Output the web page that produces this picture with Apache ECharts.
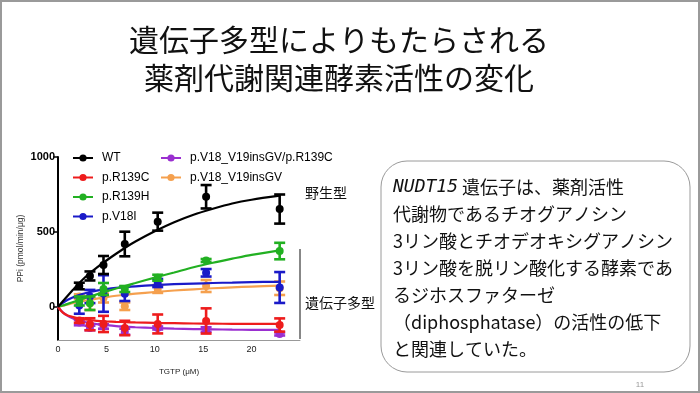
<!DOCTYPE html>
<html>
<head>
<meta charset="utf-8">
<script src="https://cdn.jsdelivr.net/npm/echarts@6/dist/echarts.min.js"></script>
<style>
html,body{margin:0;padding:0;background:#fff;}
#c{width:700px;height:393px;}
</style>
</head>
<body>
<div id="c"></div>
<script>
// ---- data ----
const seriesNames = ['WT', 'p.R139C', 'p.R139H', 'p.V18I', 'p.V18_V19insGV/p.R139C', 'p.V18_V19insGV'];
const xConc = [2.2, 3.3, 4.7, 6.9, 10.3, 15.3, 22.9];

const wtMean = [140, 207, 280, 420, 569, 735, 653];
const wtErr = [22, 30, 60, 82, 60, 78, 97];
const r139cMean = [-90, -115, -113, -140, -113, -93, -120];
const r139cErr = [15, 40, 54, 48, 63, 84, 44];
const r139hMean = [40, 25, 120, 120, 195, 310, 373];
const r139hErr = [30, 45, 40, 20, 20, 10, 55];
const v18iMean = [10, 70, 90, 88, 160, 228, 130];
const v18iErr = [55, 44, 122, 48, 27, 25, 103];
const dblMean = [-104, -140, -130, -165, -140, -150, -180];
const dblErr = [18, 15, 15, 20, 10, 15, 10];
const insMean = [70, 25, 60, 5, 120, 140, 125];
const insErr = [15, 45, 30, 25, 26, 40, 45];

// fitted curves
const fitX = [0, 0.5, 1, 1.5, 2, 3, 4, 5, 6, 7, 8, 10, 12, 14, 16, 18, 20, 22.9];
const wtFit = [0, 38, 75, 111, 147, 210, 262, 310, 355, 398, 437, 505, 565, 615, 655, 690, 715, 742];
const r139cFit = [0, -38, -56, -66, -74, -85, -92, -96, -99, -101, -103, -106, -108, -110, -111, -112, -112, -113];
const r139hFit = [0, 10, 21, 32, 43, 63, 84, 104, 123, 142, 160, 196, 230, 265, 295, 322, 348, 378];
const v18iFit = [0, 27, 48, 63, 76, 95, 109, 119, 127, 133, 138, 146, 152, 156, 160, 163, 166, 168];
const dblFit = [0, -36, -59, -75, -87, -104, -114, -121, -127, -131, -135, -140, -144, -147, -149, -151, -152, -153];
const insFit = [0, 9, 17, 25, 32, 45, 56, 66, 75, 82, 89, 100, 110, 118, 125, 131, 136, 142];

const yTicks = [0, 500, 1000];
const xTicks = [0, 5, 10, 15, 20];

const titleLines = ['遺伝子多型によりもたらされる', '薬剤代謝関連酵素活性の変化'];
const boxLines = [
  '{i|NUDT15} 遺伝子は、薬剤活性',
  '代謝物であるチオグアノシン',
  '3リン酸とチオデオキシグアノシン',
  '3リン酸を脱リン酸化する酵素であ',
  'るジホスファターゼ',
  '（diphosphatase）の活性の低下',
  'と関連していた。'
];

// ---- styling ----
const colors = ['#000000', '#ee1c1c', '#22b022', '#1a1ac8', '#9a2fd0', '#f5a04e'];
const means = [wtMean, r139cMean, r139hMean, v18iMean, dblMean, insMean];
const errs = [wtErr, r139cErr, r139hErr, v18iErr, dblErr, insErr];
const fits = [wtFit, r139cFit, r139hFit, v18iFit, dblFit, insFit];
const drawOrder = [4, 5, 3, 2, 1, 0];

const series = [];
drawOrder.forEach(function (i, k) {
  const col = colors[i];
  series.push({
    name: seriesNames[i],
    type: 'line',
    smooth: 0.3,
    symbol: 'circle',
    showSymbol: false,
    data: fitX.map(function (x, j) { return [x, fits[i][j]]; }),
    lineStyle: { color: col, width: 2.2 },
    itemStyle: { color: col },
    z: 2 + k
  });
  series.push({
    name: seriesNames[i] + ' err',
    type: 'custom',
    data: xConc.map(function (x, j) { return [x, means[i][j], errs[i][j]]; }),
    encode: { x: 0, y: 1 },
    z: 2 + k,
    renderItem: function (params, api) {
      const x = api.value(0), y = api.value(1), e = api.value(2);
      const t = api.coord([x, y + e]);
      const b = api.coord([x, y - e]);
      const hw = 5.5;
      const st = { stroke: col, lineWidth: 2.6 };
      return {
        type: 'group',
        children: [
          { type: 'line', shape: { x1: t[0], y1: t[1], x2: b[0], y2: b[1] }, style: st },
          { type: 'line', shape: { x1: t[0] - hw, y1: t[1], x2: t[0] + hw, y2: t[1] }, style: st },
          { type: 'line', shape: { x1: b[0] - hw, y1: b[1], x2: b[0] + hw, y2: b[1] }, style: st }
        ]
      };
    }
  });
  series.push({
    name: seriesNames[i] + ' pts',
    type: 'scatter',
    symbol: 'circle',
    symbolSize: 8,
    data: xConc.map(function (x, j) { return [x, means[i][j]]; }),
    itemStyle: { color: col, opacity: 1 },
    z: 2 + k
  });
});

const jp = '"Noto Sans CJK JP", sans-serif';
const graphics = [
  { type: 'rect', shape: { x: 1, y: 1, width: 698, height: 391 }, style: { fill: 'none', stroke: '#9a9a9a', lineWidth: 2 }, z: 100 },
  { type: 'text', x: 339, y: 40, style: { text: titleLines[0], font: '30px ' + jp, fill: '#111', textAlign: 'center', textVerticalAlign: 'middle' } },
  { type: 'text', x: 339, y: 78, style: { text: titleLines[1], font: '30px ' + jp, fill: '#111', textAlign: 'center', textVerticalAlign: 'middle' } },
  { type: 'text', x: 305, y: 193, style: { text: '野生型', font: '14px ' + jp, fill: '#111', textVerticalAlign: 'middle' } },
  { type: 'text', x: 305, y: 303, style: { text: '遺伝子多型', font: '14px ' + jp, fill: '#111', textVerticalAlign: 'middle' } },
  { type: 'line', shape: { x1: 300, y1: 249, x2: 300, y2: 339 }, style: { stroke: '#111', lineWidth: 1 } },
  { type: 'rect', shape: { x: 381, y: 161, width: 309, height: 211, r: 26 }, style: { fill: '#fff', stroke: '#9a9a9a', lineWidth: 1 } },
  { type: 'text', x: 640, y: 385, style: { text: '11', font: '8px "Liberation Sans", sans-serif', fill: '#999', textAlign: 'center', textVerticalAlign: 'middle' } }
];
boxLines.forEach(function (t, j) {
  graphics.push({
    type: 'text', x: 393, y: 187 + j * 27,
    style: {
      text: t, font: '18px ' + jp, fill: '#111', textVerticalAlign: 'middle',
      rich: { i: { fontStyle: 'italic', fontSize: 18, fontFamily: '"DejaVu Sans Mono", monospace' } }
    }
  });
});

const legendBase = {
  orient: 'vertical', top: 147, itemWidth: 20, itemHeight: 9, itemGap: 7.5,
  textStyle: { fontSize: 12, color: '#000', fontFamily: '"Liberation Sans", Arial, sans-serif', padding: [0, 0, 0, 4] }
};

const option = {
  animation: false,
  backgroundColor: '#fff',
  grid: { left: 58, right: 400, top: 157, bottom: 53 },
  legend: [
    Object.assign({}, legendBase, { left: 67, data: seriesNames.slice(0, 4) }),
    Object.assign({}, legendBase, { left: 155, data: seriesNames.slice(4) })
  ],
  xAxis: {
    type: 'value', min: 0, max: 25, interval: 5,
    name: 'TGTP (μM)', nameLocation: 'middle', nameGap: 28,
    nameTextStyle: { fontSize: 8, color: '#222', fontFamily: '"Liberation Sans", Arial, sans-serif' },
    axisLine: { onZero: false, lineStyle: { color: '#999', width: 1 } },
    axisTick: { show: false },
    axisLabel: { customValues: xTicks, fontSize: 9, color: '#222', margin: 5, fontFamily: '"Liberation Sans", Arial, sans-serif' },
    splitLine: { show: false }
  },
  yAxis: {
    type: 'value', min: -220, max: 1000,
    name: 'PPi (pmol/min/μg)', nameLocation: 'middle', nameGap: 33,
    nameTextStyle: { fontSize: 8.5, color: '#333', fontFamily: '"Liberation Sans", Arial, sans-serif' },
    axisLine: { show: true, lineStyle: { color: '#000', width: 2 } },
    axisTick: { show: true, customValues: yTicks, length: 5, lineStyle: { color: '#000', width: 1.5 } },
    axisLabel: {
      customValues: yTicks, fontSize: 11, fontWeight: 'bold', color: '#000', margin: 3,
      fontFamily: '"Liberation Sans", Arial, sans-serif',
      formatter: function (v) { return String(v); }
    },
    splitLine: { show: false }
  },
  graphic: graphics,
  series: series
};

const chart = echarts.init(document.getElementById('c'), null, { renderer: 'canvas' });
chart.setOption(option);
</script>
</body>
</html>
